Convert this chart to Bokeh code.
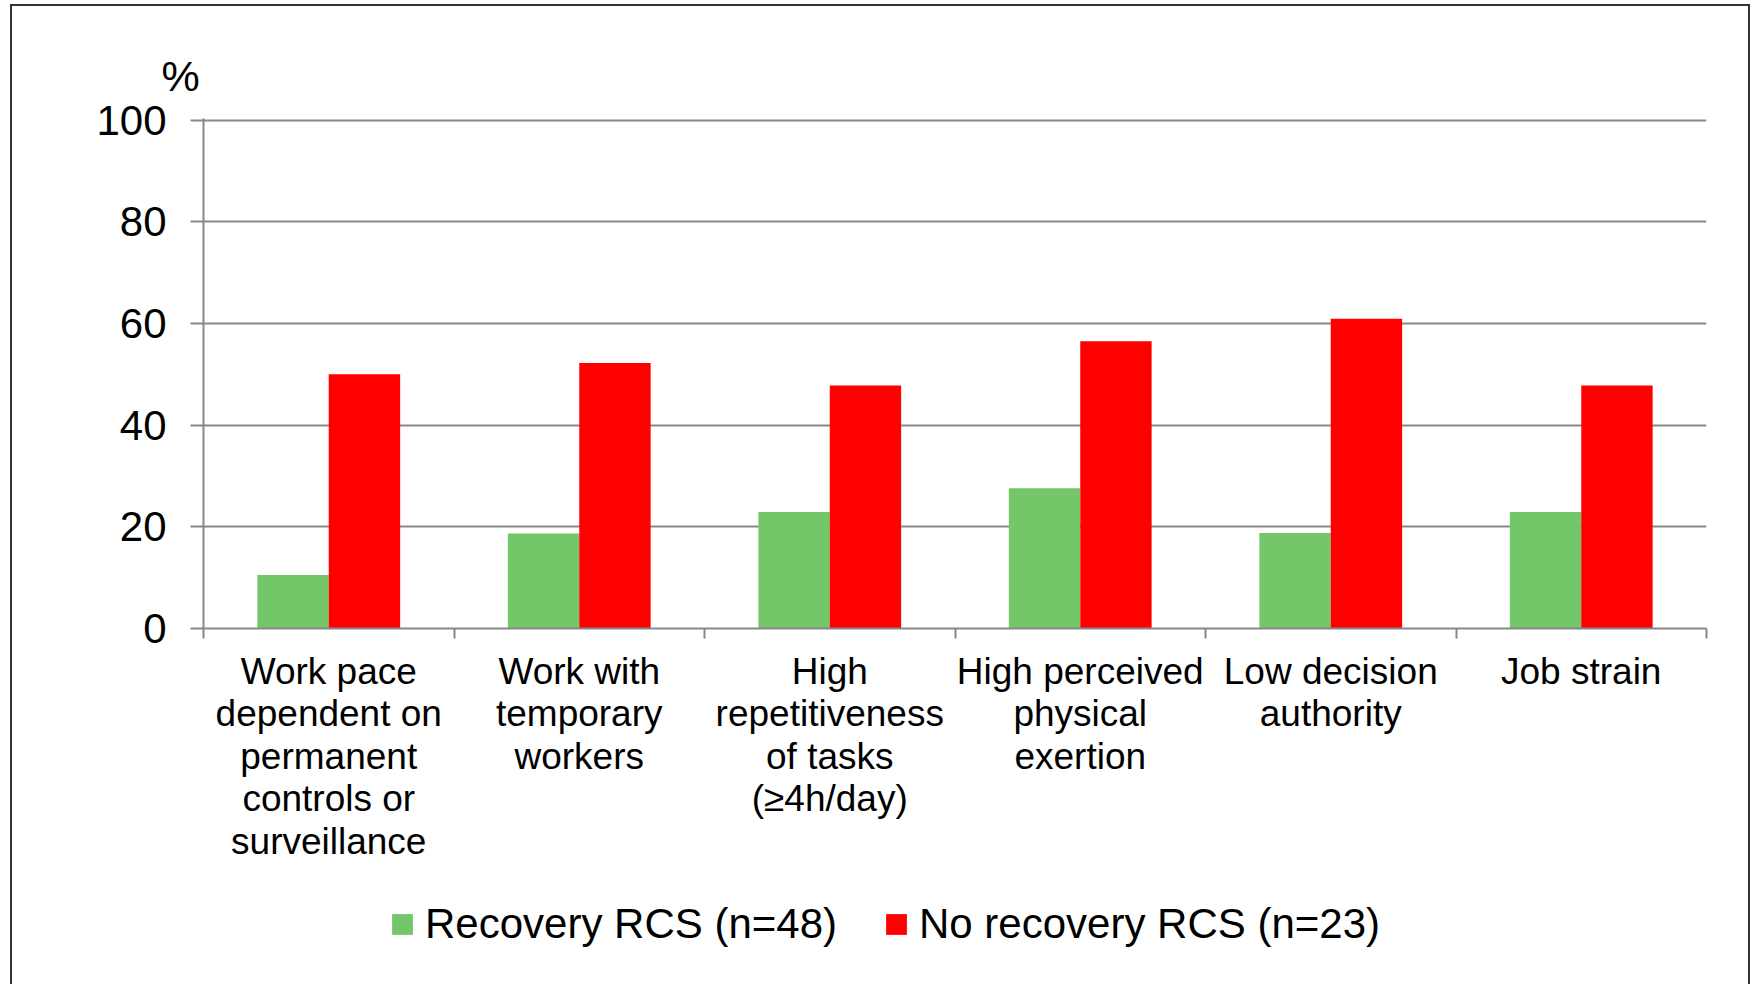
from bokeh.plotting import figure
from bokeh.layouts import column
from bokeh.models import (ColumnDataSource, Range1d, FixedTicker, Legend, LegendItem,
                          Title, InlineStyleSheet)
from bokeh.transform import dodge
from bokeh.embed import file_html
from bokeh.resources import INLINE

# ---------------- data ----------------
categories = [
    "Work pace\ndependent on\npermanent\ncontrols or\nsurveillance",
    "Work with\ntemporary\nworkers",
    "High\nrepetitiveness\nof tasks\n(\u22654h/day)",
    "High perceived\nphysical\nexertion",
    "Low decision\nauthority",
    "Job strain",
]
recovery = [10.5, 18.7, 22.9, 27.6, 18.8, 22.9]
no_recovery = [50.0, 52.2, 47.8, 56.5, 60.9, 47.8]
series_names = ["Recovery RCS (n=48)", "No recovery RCS (n=23)"]
series_colors = ["#74C769", "#FF0000"]
y_ticks = [0, 20, 40, 60, 80, 100]
y_unit = "%"

FONT = "Liberation Sans"
GRAY = "#888888"
W = 1754
H_MAIN = 870
H_LEG = 114

n = len(categories)
centers = [i + 0.5 for i in range(n)]
bounds = [i for i in range(n + 1)]

source = ColumnDataSource(dict(x=centers, rec=recovery, norec=no_recovery))
series_fields = ["rec", "norec"]

p = figure(width=W, height=H_MAIN, output_backend="svg", toolbar_location=None,
           x_range=Range1d(0, n), y_range=Range1d(0, 100.3),
           min_border_left=203, min_border_right=48, min_border_top=118,
           min_border_bottom=H_MAIN - 628)
p.outline_line_color = None
p.background_fill_color = "white"
p.border_fill_color = "white"

bw = 0.285
offsets = [-bw / 2, bw / 2]
for fld, col, off in zip(series_fields, series_colors, offsets):
    p.vbar(x=dodge("x", off, range=p.x_range), top=fld, width=bw, source=source,
           fill_color=col, line_color=None)

# grid
p.xgrid.visible = False
p.ygrid.ticker = FixedTicker(ticks=y_ticks)
p.ygrid.grid_line_color = GRAY
p.ygrid.grid_line_width = 2

# y axis
ya = p.yaxis[0]
ya.ticker = FixedTicker(ticks=y_ticks)
ya.axis_line_color = GRAY
ya.axis_line_width = 2
ya.major_tick_line_color = GRAY
ya.major_tick_line_width = 2
ya.major_tick_out = 13
ya.major_tick_in = 0
ya.minor_tick_line_color = None
ya.major_label_standoff = 24
ya.major_label_text_font = FONT
ya.major_label_text_font_size = "42px"
ya.major_label_text_color = "black"

# x axis
xa = p.xaxis[0]
xa.ticker = FixedTicker(ticks=centers, minor_ticks=bounds)
xa.major_label_overrides = {c: lab for c, lab in zip(centers, categories)}
xa.axis_line_color = GRAY
xa.axis_line_width = 2
xa.major_tick_line_color = None
xa.major_tick_out = 0
xa.major_tick_in = 0
xa.minor_tick_line_color = GRAY
xa.minor_tick_line_width = 2
xa.minor_tick_out = 10
xa.minor_tick_in = 0
xa.major_label_standoff = 12
xa.major_label_text_font = FONT
xa.major_label_text_font_size = "37px"
xa.major_label_text_line_height = 1.04
xa.major_label_text_color = "black"
xa.major_label_orientation = "horizontal"

# unit label above the value axis
p.title = Title(text=y_unit, align="left", offset=-42, standoff=38,
                text_font=FONT, text_font_size="43px", text_font_style="normal",
                text_color="black")

# ---------------- legend strip ----------------
leg = figure(width=W, height=H_LEG, output_backend="svg", toolbar_location=None,
             x_range=Range1d(0, n), y_range=Range1d(0, 100),
             x_axis_location=None, y_axis_location=None,
             min_border_left=0, min_border_right=0, min_border_top=0, min_border_bottom=0)
leg.outline_line_color = None
leg.grid.visible = False
leg.border_fill_color = "white"
leg.background_fill_color = "white"
swatches = [leg.vbar(x="x", top=fld, width=bw, source=source, fill_color=col,
                     line_color=None, visible=False)
            for fld, col in zip(series_fields, series_colors)]

legend = Legend(items=[LegendItem(label=s, renderers=[r]) for s, r in zip(series_names, swatches)],
                orientation="horizontal", location=(186, 36),
                glyph_width=26, glyph_height=26, label_standoff=10, spacing=46,
                padding=0, margin=0, border_line_color=None, background_fill_alpha=0,
                inactive_fill_alpha=0,
                label_text_font=FONT, label_text_font_size="42px",
                label_text_color="black")
leg.add_layout(legend, "center")

layout = column(p, leg, spacing=0)

# outer frame around the chart
layout.stylesheets = [InlineStyleSheet(css="""
:host { position: relative; }
:host::after {
  content: ""; position: absolute; left: 10px; top: 4px; width: 1740px; height: 990px;
  box-sizing: border-box; border: 2px solid #333333; border-bottom: none;
  pointer-events: none;
}
""")]

open("out.html", "w").write(file_html(layout, INLINE))
